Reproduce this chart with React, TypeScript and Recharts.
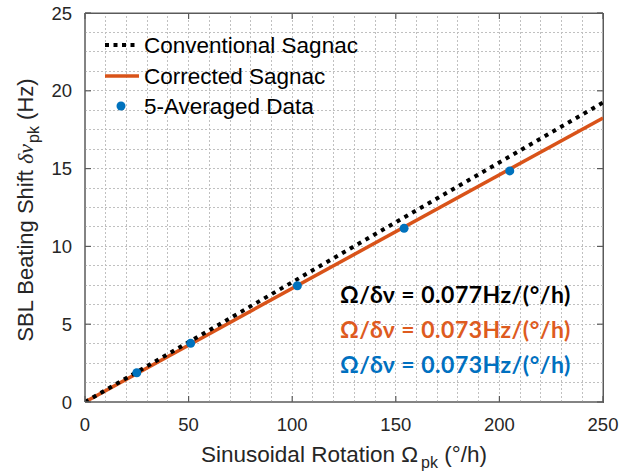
import React from "react";
import {
  ComposedChart,
  Line,
  Scatter,
  XAxis,
  YAxis,
  ReferenceLine,
  ReferenceArea,
  Legend,
} from "recharts";

// ---- data ----
const lineX = [0, 250];
const conventionalY = [0, 19.25];
const correctedY = [0, 18.25];
const avgX = [25, 51, 102.5, 154, 205];
const avgY = [1.88, 3.77, 7.47, 11.16, 14.85];
const xTicks = [0, 50, 100, 150, 200, 250];
const yTicks = [0, 5, 10, 15, 20, 25];
const xMinor = [10,20,30,40,50,60,70,80,90,100,110,120,130,140,150,160,170,180,190,200,210,220,230,240];
const yMinor = [1.25,2.5,3.75,5,6.25,7.5,8.75,10,11.25,12.5,13.75,15,16.25,17.5,18.75,20,21.25,22.5,23.75];
const legendLabels = ["Conventional Sagnac", "Corrected Sagnac", "5-Averaged Data"];
const annotations = [
  { text: "Ω/δν = 0.077Hz/(°/h)", color: "#000000" },
  { text: "Ω/δν = 0.073Hz/(°/h)", color: "#DE5B1F" },
  { text: "Ω/δν = 0.073Hz/(°/h)", color: "#0070C0" },
];

const conventionalData = lineX.map((x, i) => ({ x, y: conventionalY[i] }));
const correctedData = lineX.map((x, i) => ({ x, y: correctedY[i] }));
const avgData = avgX.map((x, i) => ({ x, y: avgY[i] }));

const ORANGE = "#D95319";
const BLUE = "#0072BD";
const TXT = "#262626";
const AX = "#5a5a5a";
const GRID = "#c0c0c0";
const FONT = "'Liberation Sans', Arial, Helvetica, sans-serif";
const TL = 6;

// layout
const W = 624;
const H = 476;
const MARGIN = { top: 13, right: 21, bottom: 34, left: 25 };
const PLOT_TOP = MARGIN.top;
const PLOT_RIGHT = W - MARGIN.right;

const XTick = (p: any) => (
  <g>
    <line x1={p.x} y1={p.y} x2={p.x} y2={p.y - TL} stroke={AX} strokeWidth={1.2} />
    <line x1={p.x} y1={PLOT_TOP} x2={p.x} y2={PLOT_TOP + TL} stroke={AX} strokeWidth={1.2} />
    <text x={p.x} y={p.y + 29} textAnchor="middle" fill={TXT} fontSize={18.5} fontFamily={FONT}>
      {p.payload.value}
    </text>
  </g>
);
const YTick = (p: any) => (
  <g>
    <line x1={p.x} y1={p.y} x2={p.x + TL} y2={p.y} stroke={AX} strokeWidth={1.2} />
    <line x1={PLOT_RIGHT} y1={p.y} x2={PLOT_RIGHT - TL} y2={p.y} stroke={AX} strokeWidth={1.2} />
    <text x={p.x - 13} y={p.y + 6.5} textAnchor="end" fill={TXT} fontSize={18.5} fontFamily={FONT}>
      {p.payload.value}
    </text>
  </g>
);

const XLabel = (p: any) => {
  const vb = p.viewBox || {};
  const cx = vb.x + vb.width / 2;
  return (
    <text x={cx} y={462} textAnchor="middle" fill={TXT} fontSize={22.5} fontFamily={FONT}>
      Sinusoidal Rotation Ω
      <tspan dx={3} dy={6} fontSize={16}>pk</tspan>
      <tspan dy={-6}> (°/h)</tspan>
    </text>
  );
};

const YLabel = () => {
  const cx = 33;
  const cy = 210;
  return (
    <text
      x={cx}
      y={cy}
      transform={`rotate(-90 ${cx} ${cy})`}
      textAnchor="middle"
      fill={TXT}
      fontSize={22}
      fontFamily={FONT}
    >
      SBL Beating Shift{" "}
      <tspan fontFamily="'Liberation Serif', 'DejaVu Serif', serif" fontStyle="italic">δν</tspan>
      <tspan dx={1} dy={6} fontSize={16}>pk</tspan>
      <tspan dy={-6}> (Hz)</tspan>
    </text>
  );
};

const LegendContent = () => (
  <svg width={260} height={90} style={{ overflow: "visible" }}>
    <line x1={6} y1={15} x2={40} y2={15} stroke="#000" strokeWidth={4} strokeDasharray="4 4.5" />
    <line x1={6} y1={46} x2={40} y2={46} stroke={ORANGE} strokeWidth={3.5} />
    <circle cx={22} cy={76} r={4.5} fill={BLUE} />
    {legendLabels.map((l, i) => (
      <text key={l} x={45} y={15 + i * 30.5 + 8} fill="#000" fontSize={22.5} fontFamily={FONT}>
        {l}
      </text>
    ))}
  </svg>
);

export default function App() {
  return (
    <div style={{ position: "absolute", left: 0, top: 0, width: W, height: H, background: "#fff" }}>
      <ComposedChart width={W} height={H} margin={MARGIN} style={{ background: "#fff" }}>
        <XAxis
          xAxisId="b"
          dataKey="x"
          type="number"
          domain={[0, 250]}
          ticks={xTicks}
          height={40}
          tickSize={0}
          tickMargin={0}
          tickLine={false}
          tick={<XTick />}
          stroke={AX}
          allowDataOverflow
          label={<XLabel />}
        />
        <YAxis
          yAxisId="l"
          type="number"
          domain={[0, 25]}
          ticks={yTicks}
          width={60}
          tickSize={0}
          tickMargin={0}
          tickLine={false}
          tick={<YTick />}
          stroke={AX}
          allowDataOverflow
          label={<YLabel />}
        />
        {xMinor.map((v) => (
          <ReferenceLine
            key={"vx" + v}
            xAxisId="b"
            yAxisId="l"
            x={v}
            stroke={GRID}
            strokeWidth={1}
            strokeDasharray="2 2"
            shapeRendering="crispEdges"
          />
        ))}
        {yMinor.map((v) => (
          <ReferenceLine
            key={"hy" + v}
            xAxisId="b"
            yAxisId="l"
            y={v}
            stroke={GRID}
            strokeWidth={1}
            strokeDasharray="2 2"
            shapeRendering="crispEdges"
          />
        ))}
        <ReferenceArea
          xAxisId="b"
          yAxisId="l"
          x1={0}
          x2={250}
          y1={0}
          y2={25}
          fill="none"
          fillOpacity={0}
          stroke={AX}
          strokeWidth={1}
          strokeOpacity={1}
          ifOverflow="visible"
        />
        <Line
          xAxisId="b"
          yAxisId="l"
          data={correctedData}
          dataKey="y"
          type="linear"
          stroke={ORANGE}
          strokeWidth={3.5}
          dot={false}
          isAnimationActive={false}
        />
        <Line
          xAxisId="b"
          yAxisId="l"
          data={conventionalData}
          dataKey="y"
          type="linear"
          stroke="#000"
          strokeWidth={4}
          strokeDasharray="4 5"
          dot={false}
          isAnimationActive={false}
        />
        <Scatter
          xAxisId="b"
          yAxisId="l"
          data={avgData}
          dataKey="y"
          fill={BLUE}
          isAnimationActive={false}
          shape={(p: any) => <circle cx={p.cx} cy={p.cy} r={4.5} fill={BLUE} />}
        />
        <Legend
          layout="vertical"
          align="center"
          verticalAlign="middle"
          content={<LegendContent />}
          wrapperStyle={{ position: "absolute", left: 99, top: 30, width: 260, height: 90 }}
        />
      </ComposedChart>
      {/* plot frame (axes box) */}
      <div
        style={{
          position: "absolute",
          left: MARGIN.left + 60,
          top: PLOT_TOP,
          width: PLOT_RIGHT - (MARGIN.left + 60) + 1,
          height: H - MARGIN.bottom - 40 - PLOT_TOP + 1,
          boxSizing: "border-box",
          borderTop: `1px solid ${AX}`,
          borderRight: `1px solid ${AX}`,
          pointerEvents: "none",
        }}
      />
      {annotations.map((a, i) => (
        <div
          key={i}
          style={{
            position: "absolute",
            left: 340,
            top: 279 + i * 35,
            color: a.color,
            fontFamily: "Lato, 'Open Sans', sans-serif",
            fontWeight: 700,
            fontSize: 23,
            letterSpacing: "0.5px",
            lineHeight: "30px",
            whiteSpace: "nowrap",
          }}
        >
          {a.text}
        </div>
      ))}
    </div>
  );
}
